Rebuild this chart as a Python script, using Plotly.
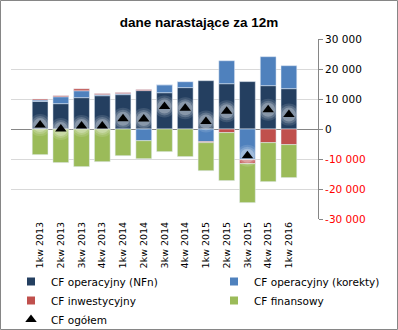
import plotly.graph_objects as go

categories = ["1kw 2013", "2kw 2013", "3kw 2013", "4kw 2013", "1kw 2014", "2kw 2014",
              "3kw 2014", "4kw 2014", "1kw 2015", "2kw 2015", "3kw 2015", "4kw 2015", "1kw 2016"]
cf_nfn = [9200, 8450, 10450, 11100, 11450, 12800, 12100, 13800, 16100, 15100, 15800, 14450, 13450]
cf_korekty = [450, 2300, 2300, 350, 350, -3900, 2650, 2000, -4200, 7650, -10200, 9650, 7650]
cf_inwest = [350, 350, 650, 350, 350, 350, 0, 0, -350, -1200, -1350, -4550, -5200]
cf_finans = [-8550, -11200, -12550, -10900, -8900, -6000, -7550, -9200, -9350, -16000, -13000, -13000, -11000]
cf_ogolem = [1300, 0, 1000, 1000, 3400, 3300, 7500, 6900, 2500, 5900, -8900, 6400, 4800]

pos_ticks = [0, 10000, 20000, 30000]
pos_text = ["0", "10 000", "20 000", "30 000"]
neg_ticks = [-30000, -20000, -10000]
neg_text = ["-30 000", "-20 000", "-10 000"]

FONT = "DejaVu Sans"
W, H = 398, 330
ML, MR, MT, MB = 11, 80, 39, 111

series = [
    ("CF operacyjny (NFn)", cf_nfn, "#243F60", "legend", 1),
    ("CF operacyjny (korekty)", cf_korekty, "#4F81BD", "legend2", 1),
    ("CF inwestycyjny", cf_inwest, "#C0504D", "legend", 2),
    ("CF finansowy", cf_finans, "#9BBB59", "legend2", 2),
]

fig = go.Figure()
for name, vals, col, leg, rank in series:
    fig.add_bar(x=categories, y=vals, name=name, marker_color=col, showlegend=False)
# glow halo (simulated blur)
for sz, a in [(22, 0.12), (18, 0.18), (14, 0.25)]:
    fig.add_scatter(x=categories, y=cf_ogolem, mode="markers", showlegend=False, hoverinfo="skip",
                    marker=dict(symbol="circle", size=sz, color=f"rgba(255,255,255,{a})", line_width=0))
fig.add_scatter(x=categories, y=cf_ogolem, mode="markers", name="CF ogółem",
                marker=dict(symbol="triangle-up", size=10, color="black", line_width=0),
                legend="legend", legendrank=3)
# legend-only entries with small square symbols
for name, vals, col, leg, rank in series:
    fig.add_scatter(x=[None], y=[None], mode="markers", name=name, legend=leg, legendrank=rank,
                    marker=dict(symbol="square", size=8, color=col, line_width=0),
                    hoverinfo="skip")

pw = W - ML - MR
ph = H - MT - MB
def px_x(p):
    return (p - ML) / pw
def px_y(p):
    return (H - MB - p) / ph

leg_common = dict(orientation="v", yanchor="top", xanchor="left", font=dict(size=10.5),
                  itemwidth=30, tracegroupgap=0, traceorder="normal", bgcolor="rgba(0,0,0,0)",
                  borderwidth=0)

fig.update_layout(
    width=W, height=H,
    margin=dict(l=ML, r=MR, t=MT, b=MB, autoexpand=False),
    barmode="relative", bargap=0.24,
    paper_bgcolor="white", plot_bgcolor="white",
    font=dict(family=FONT, size=11, color="black"),
    title=dict(text="<b>dane narastające za 12m</b>", x=199 / W, xanchor="center",
               y=1 - 22 / H, yanchor="middle",
               font=dict(family="Liberation Sans", size=13.5, color="black")),
    xaxis=dict(tickangle=-90, tickfont=dict(size=9.5), showline=False, showgrid=False,
               ticks="", automargin=False),
    yaxis=dict(side="right", range=[-30000, 30000], tickvals=pos_ticks, ticktext=pos_text,
               showgrid=True, gridcolor="#D9D9D9", gridwidth=1,
               zeroline=True, zerolinecolor="#868686", zerolinewidth=1,
               showline=True, linecolor="#868686", linewidth=1,
               ticks="outside", ticklen=4, tickcolor="#868686", automargin=False,
               tickfont=dict(size=10.5, color="black")),
    yaxis2=dict(overlaying="y", side="right", range=[-30000, 30000], tickvals=neg_ticks,
                ticktext=neg_text, showgrid=True, gridcolor="#D9D9D9", gridwidth=1,
                zeroline=False, showline=False, automargin=False,
                ticks="outside", ticklen=4, tickcolor="#868686",
                tickfont=dict(size=10.5, color="#FF0000")),
    legend=dict(x=px_x(11), y=px_y(267), **leg_common),
    legend2=dict(x=px_x(214), y=px_y(267), **leg_common),
    shapes=[dict(type="rect", xref="paper", yref="paper",
                 x0=px_x(0.5), x1=px_x(W - 0.5), y0=px_y(H - 0.5), y1=px_y(0.5),
                 line=dict(color="#868686", width=1), layer="above")],
)
# dummy trace to activate yaxis2
fig.add_scatter(x=[categories[0]], y=[None], yaxis="y2", showlegend=False, hoverinfo="skip")

fig.write_html("out.html")
